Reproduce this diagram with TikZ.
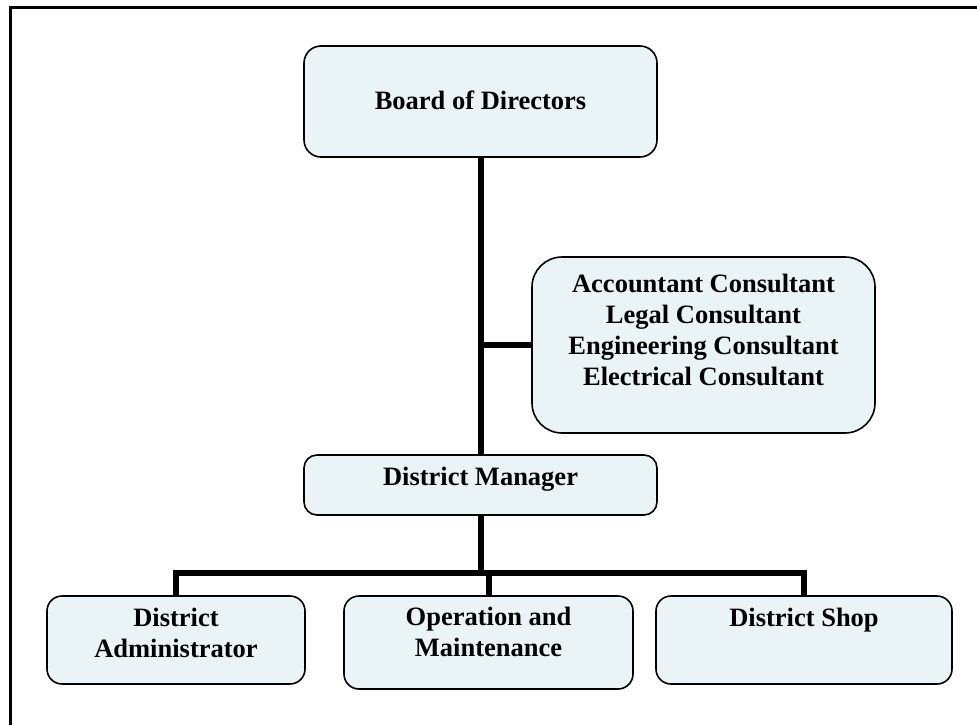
\documentclass[tikz,border=0pt]{standalone}
\usepackage{fontspec}
\setmainfont{Liberation Serif}
\definecolor{boxfill}{RGB}{234,244,247}
\begin{document}
\begin{tikzpicture}[x=1pt,y=-1pt,
  orgbox/.style={draw=black,fill=boxfill,line width=1.6pt,rounded corners=15pt,
    inner sep=0pt,align=center,
    font=\bfseries\fontsize{26.5}{31}\selectfont},
  conn/.style={line width=6pt,line join=miter,line cap=butt},
  frameline/.style={line width=3pt,line join=miter}]
\useasboundingbox (0,0) rectangle (977,725);
\draw[frameline] (10.5,740) -- (10.5,8) -- (990,8);

\node[orgbox,minimum width=353pt,minimum height=111pt,rounded corners=17pt,
  text height=18pt,text depth=3pt] (bod) at (480.5,101.5) {Board of Directors};
\node[orgbox,minimum width=343pt,minimum height=176pt,rounded corners=30pt,
  text height=18pt,text depth=124pt] (cons) at (703.5,345)
  {\begin{tabular}[t]{@{}c@{}}Accountant Consultant\\Legal Consultant\\Engineering Consultant\\Electrical Consultant\end{tabular}};
\node[orgbox,minimum width=353pt,minimum height=60pt,rounded corners=13pt,
  text height=18pt,text depth=18pt] (dm) at (480.5,485) {District Manager};
\node[orgbox,minimum width=258pt,minimum height=88pt,
  text height=18pt,text depth=46pt] (da) at (176,640)
  {\begin{tabular}[t]{@{}c@{}}District\\Administrator\end{tabular}};
\node[orgbox,minimum width=289pt,minimum height=93pt,
  text height=18pt,text depth=53pt] (om) at (488.5,642.5)
  {\begin{tabular}[t]{@{}c@{}}Operation and\\Maintenance\end{tabular}};
\node[orgbox,minimum width=296pt,minimum height=88pt,
  text height=18pt,text depth=46pt] (ds) at (804,640) {District Shop};

\coordinate (junc) at (480.5,345);
\coordinate (bus) at (480.5,573);
\draw[conn] (bod.south) -- (dm.north);
\draw[conn] (junc) -- (cons.west);
\draw[conn] (dm.south) -- (bus);
\draw[conn] (da.north) -- (da.north |- bus) -- (ds.north |- bus) -- (ds.north);
\draw[conn] (om.north |- bus) -- (om.north);
\end{tikzpicture}
\end{document}
